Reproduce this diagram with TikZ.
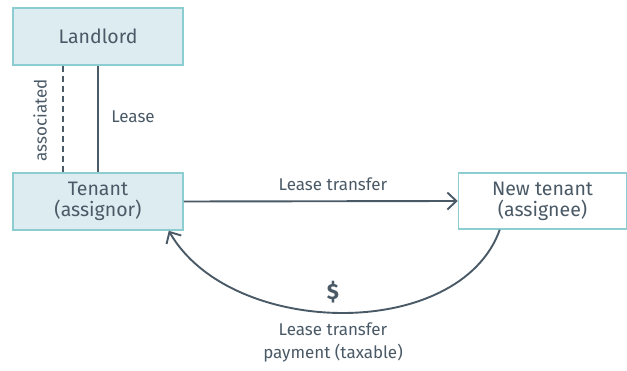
\documentclass[tikz,border=0pt]{standalone}
\usepackage{fontspec}
\setmainfont{Fira Sans}
\usetikzlibrary{arrows.meta}

\definecolor{boxfill}{HTML}{DDECF0}
\definecolor{boxline}{HTML}{8CCDD1}
\definecolor{ink}{HTML}{4A5966}

\begin{document}
\begin{tikzpicture}[
    x=1pt, y=-1pt,
    party/.style={rectangle, draw=boxline, fill=boxfill, line width=1.5pt, minimum width=170pt, minimum height=57pt, align=center, font=\fontsize{19.5}{21}\selectfont, text=ink, inner sep=0pt},
    newparty/.style={party, fill=white, minimum width=168pt, minimum height=56pt},
    label/.style={font=\fontsize{17}{19}\selectfont, text=ink},
    link/.style={draw=ink, line width=1.9pt},
    arrow/.style={link, -{Straight Barb[length=9pt, width=17pt, line width=1.9pt]}}
  ]
    \useasboundingbox (0,0) rectangle (627,371);

    % Parties
    \node[party] (landlord) at (98,36.5) {Landlord};
    \node[party] (tenant) at (98,201.5) {Tenant\\(assignor)};
    \node[newparty] (newtenant) at (542.5,201) {New tenant\\(assignee)};

    % Landlord - tenant links
    \draw[link, dashed, dash pattern=on 6pt off 4pt] ([xshift=-35pt]landlord.south) -- ([xshift=-35pt]tenant.north);
    \draw[link] (landlord.south) -- (tenant.north);
    \node[label, rotate=90] (assoc) at (40,120) {associated};
    \node[label] (lease) at (133,117) {Lease};

    % Transfer of the lease
    \draw[arrow] (tenant.east) -- (newtenant.east -| newtenant.west);
    \node[label] (transfer) at (333,184) {Lease transfer};

    % Payment back to the assignor
    \draw[arrow] ([xshift=42pt]newtenant.south west) .. controls +(-40,112) and +(62,108) .. ([xshift=-15pt]tenant.south east);
    \node[font=\bfseries\fontsize{22}{24}\selectfont, text=ink] (dollar) at (333,292) {\$};
    \node[label, align=center] (payment) at (333,342.5) {Lease transfer\\[4pt]payment (taxable)};

  \end{tikzpicture}
\end{document}
